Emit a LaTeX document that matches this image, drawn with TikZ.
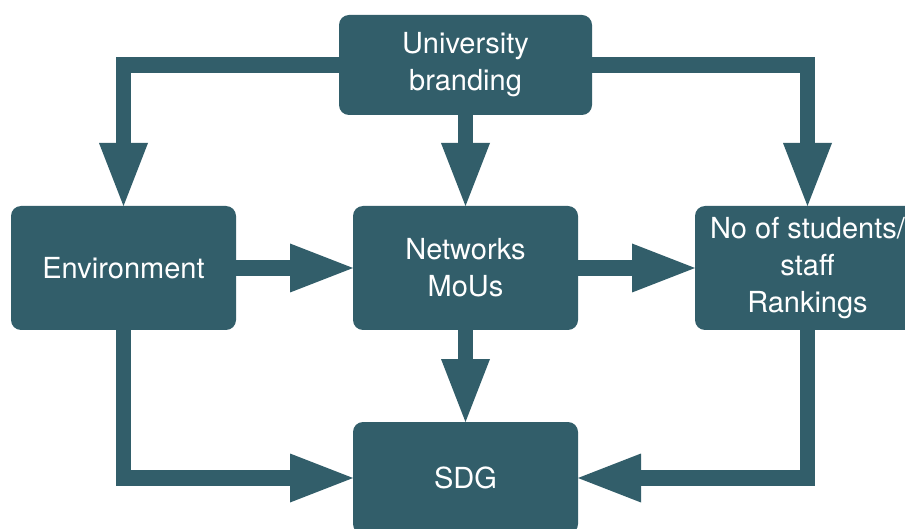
\documentclass[tikz,border=0pt]{standalone}
\usepackage{fontspec}
\setmainfont{TeX Gyre Heros}
\usetikzlibrary{arrows.meta}
\definecolor{teal1}{RGB}{50,94,106}
\begin{document}
\begin{tikzpicture}[x=1pt,y=-1pt,
  box/.style={fill=teal1, rounded corners=10pt, text=white, align=center,
    minimum width=225pt, minimum height=124pt, inner sep=0pt, outer sep=0pt,
    font=\fontsize{29}{37}\selectfont},
  conn/.style={draw=teal1, line width=15.5pt, line join=miter,
    -{Triangle[width=49pt,length=63pt,line width=0pt]}}]
\useasboundingbox (0,0) rectangle (905,529);
\clip (0,0) rectangle (905,529);
\fill[white] (0,0) rectangle (905,529);
\node[box, minimum width=253pt, minimum height=100pt] (ub) at (465.5,65) {University\\branding};
\node[box] (env) at (123.5,268) {Environment};
\node[box] (net) at (465.5,268) {Networks\\MoUs};
\node[box] (no) at (807.5,268) {No of students/\\staff\\Rankings};
\node[box, minimum height=112pt] (sdg) at (465.5,478) {SDG};
\draw[conn] (ub.west) -| (env.north);
\draw[conn] (ub.south) -- (net.north);
\draw[conn] (ub.east) -| (no.north);
\draw[conn] (env.east) -- (net.west);
\draw[conn] (net.east) -- (no.west);
\draw[conn] (net.south) -- (sdg.north);
\draw[conn] (env.south) |- (sdg.west);
\draw[conn] (no.south) |- (sdg.east);
\end{tikzpicture}
\end{document}
